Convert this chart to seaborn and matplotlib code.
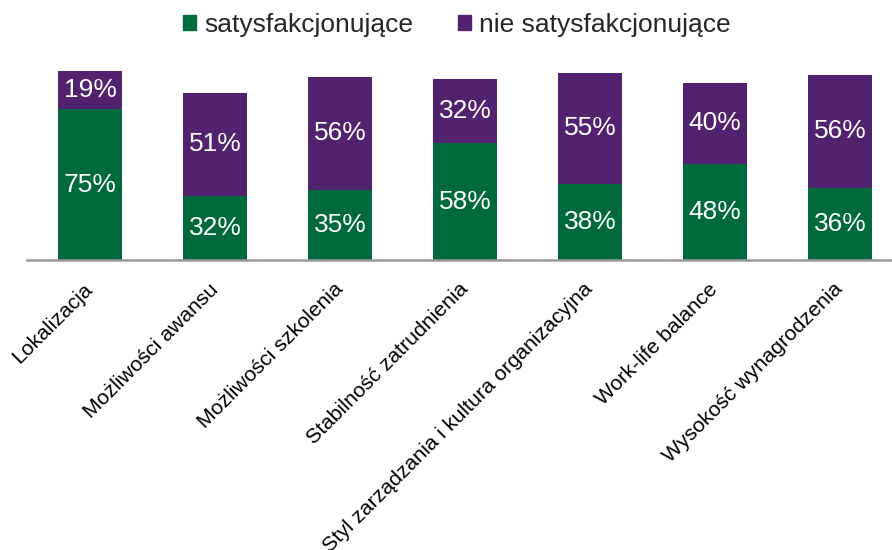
import matplotlib
matplotlib.use('Agg')
import matplotlib.pyplot as plt
import matplotlib.patches as mpatches
import seaborn as sns
import pandas as pd

# Data
categories = ['Lokalizacja', 'Możliwości awansu', 'Możliwości szkolenia',
              'Stabilność zatrudnienia', 'Styl zarządzania i kultura organizacyjna',
              'Work-life balance', 'Wysokość wynagrodzenia']
satisfying = [75, 32, 35, 58, 38, 48, 36]
not_satisfying = [19, 51, 56, 32, 55, 40, 56]
series_names = ['satysfakcjonujące', 'nie satysfakcjonujące']

GREEN = '#006a3e'
PURPLE = '#52226e'

sns.set_theme(style='white')
plt.rcParams['font.family'] = ['Liberation Sans', 'DejaVu Sans']

df = pd.DataFrame({'category': categories,
                   'sat': satisfying,
                   'not_sat': not_satisfying})
df['total'] = df['sat'] + df['not_sat']

fig = plt.figure(figsize=(8.92, 5.5), dpi=100)
ax = fig.add_axes([27 / 892, 1 - 260 / 550, 865 / 892, 201 / 550])

# Stacked bars: totals in purple, green drawn over the bottom part
sns.barplot(ax=ax, data=df, x='category', y='total', color=PURPLE,
            saturation=1, width=0.512, edgecolor='none')
sns.barplot(ax=ax, data=df, x='category', y='sat', color=GREEN,
            saturation=1, width=0.512, edgecolor='none')

# Value labels in the middle of each segment
for i, row in df.iterrows():
    ax.text(i, row['sat'] / 2, f"{row['sat']}%", ha='center', va='center',
            color='white', fontsize=19)
    ax.text(i, row['sat'] + row['not_sat'] / 2, f"{row['not_sat']}%",
            ha='center', va='center', color='white', fontsize=19)

ax.set_xlim(-0.504, 6.416)
ax.set_ylim(0, 100)
ax.set_xlabel('')
ax.set_ylabel('')
ax.set_yticks([])

for side in ['top', 'right', 'left']:
    ax.spines[side].set_visible(False)
ax.spines['bottom'].set_color('#9a9a9a')
ax.spines['bottom'].set_linewidth(1.8)

ax.tick_params(axis='x', length=0, pad=19, labelsize=15.3, labelcolor='black')
for lbl in ax.get_xticklabels():
    lbl.set_rotation(45)
    lbl.set_ha('right')
    lbl.set_va('center')
    lbl.set_rotation_mode('anchor')

# Legend
handles = [mpatches.Patch(color=GREEN, label=series_names[0]),
           mpatches.Patch(color=PURPLE, label=series_names[1])]
fig.legend(handles=handles, loc='center', bbox_to_anchor=(0.512, 1 - 25 / 550),
           ncol=2, frameon=False, fontsize=19, handlelength=0.5,
           handleheight=0.5, handletextpad=0.3, columnspacing=1.7)

fig.savefig('out.png', dpi=100)
